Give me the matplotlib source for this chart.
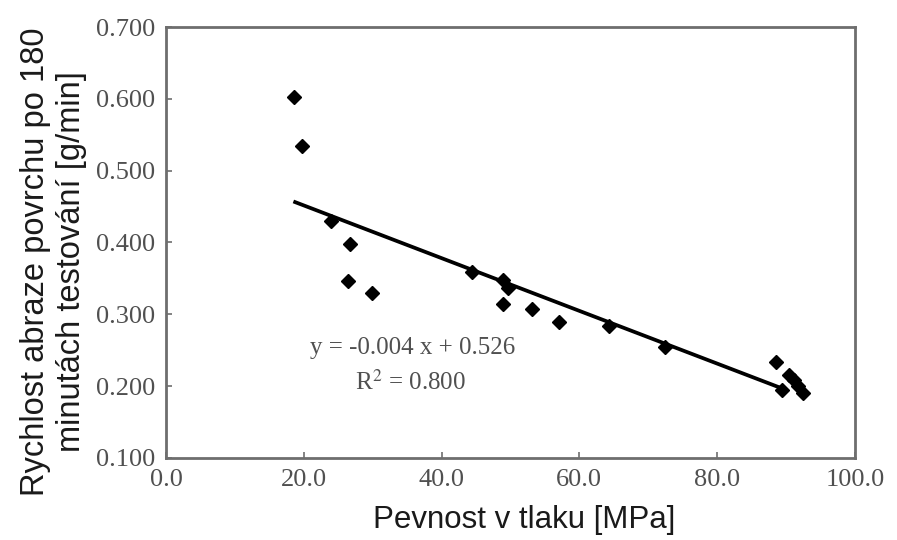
import matplotlib

matplotlib.use("Agg")

import matplotlib.pyplot as plt
import numpy as np
from matplotlib.ticker import FormatStrFormatter

# compressive strength [MPa] vs. surface abrasion rate [g/min]
strength = [18.6, 19.8, 23.9, 26.7, 26.4, 29.9, 44.4, 48.9, 49.6, 48.9,
            53.1, 57.0, 64.3, 72.4, 88.5, 90.5, 91.2, 89.4, 91.8, 92.5]
abrasion = [0.602, 0.534, 0.430, 0.398, 0.347, 0.329, 0.359, 0.348, 0.336, 0.314,
            0.308, 0.289, 0.283, 0.254, 0.234, 0.215, 0.208, 0.195, 0.200, 0.190]

# trend line as drawn in the figure
TREND_SLOPE = -0.00367
TREND_INTERCEPT = 0.525
TREND_RANGE = [18.5, 89.4]

x_ticks = [0, 20, 40, 60, 80, 100]
y_ticks = [0.1, 0.2, 0.3, 0.4, 0.5, 0.6, 0.7]

SANS = ["Liberation Sans", "DejaVu Sans"]
SERIF = ["Liberation Serif", "DejaVu Serif"]
GREY = "#6e6e6e"
TEXT_GREY = "#505050"

fig = plt.figure(figsize=(8.97, 5.40), dpi=100)
ax = fig.add_axes([0.185, 0.152, 0.768, 0.798])

ax.plot(strength, abrasion, linestyle="none", marker="D", markersize=7.5,
        color="black", zorder=3)

xs = np.array(TREND_RANGE)
ax.plot(xs, TREND_SLOPE * xs + TREND_INTERCEPT, color="black", linewidth=2.7,
        solid_capstyle="butt", zorder=2)

ax.text(0.358, 0.255, "y = -0.004 x + 0.526", transform=ax.transAxes,
        family=SERIF, fontsize=18, color=TEXT_GREY, ha="center", va="center")
ax.text(0.355, 0.174, r"R$^2$ = 0.800", transform=ax.transAxes,
        family=SERIF, fontsize=18, color=TEXT_GREY, ha="center", va="center",
        math_fontfamily="stix")

ax.set_xlim(0, 100)
ax.set_ylim(0.1, 0.7)
ax.set_xticks(x_ticks)
ax.set_yticks(y_ticks)
ax.xaxis.set_major_formatter(FormatStrFormatter("%.1f"))
ax.yaxis.set_major_formatter(FormatStrFormatter("%.3f"))
ax.tick_params(direction="in", length=4, width=1.2, color=GREY, pad=8,
               labelsize=19, labelcolor=TEXT_GREY)
for lab in ax.get_xticklabels() + ax.get_yticklabels():
    lab.set_family(SERIF)
for sp in ax.spines.values():
    sp.set_color(GREY)
    sp.set_linewidth(2.0)

ax.set_xlabel("Pevnost v tlaku [MPa]", family=SANS, fontsize=22.5, color="#1a1a1a")
ax.xaxis.set_label_coords(0.52, -0.11)
ax.set_ylabel("Rychlost abraze povrchu po 180\nminutách testování [g/min]",
              family=SANS, fontsize=23.5, color="#1a1a1a", linespacing=1.2)
ax.yaxis.set_label_coords(-0.115, 0.455)

fig.savefig("out.png", dpi=100)
